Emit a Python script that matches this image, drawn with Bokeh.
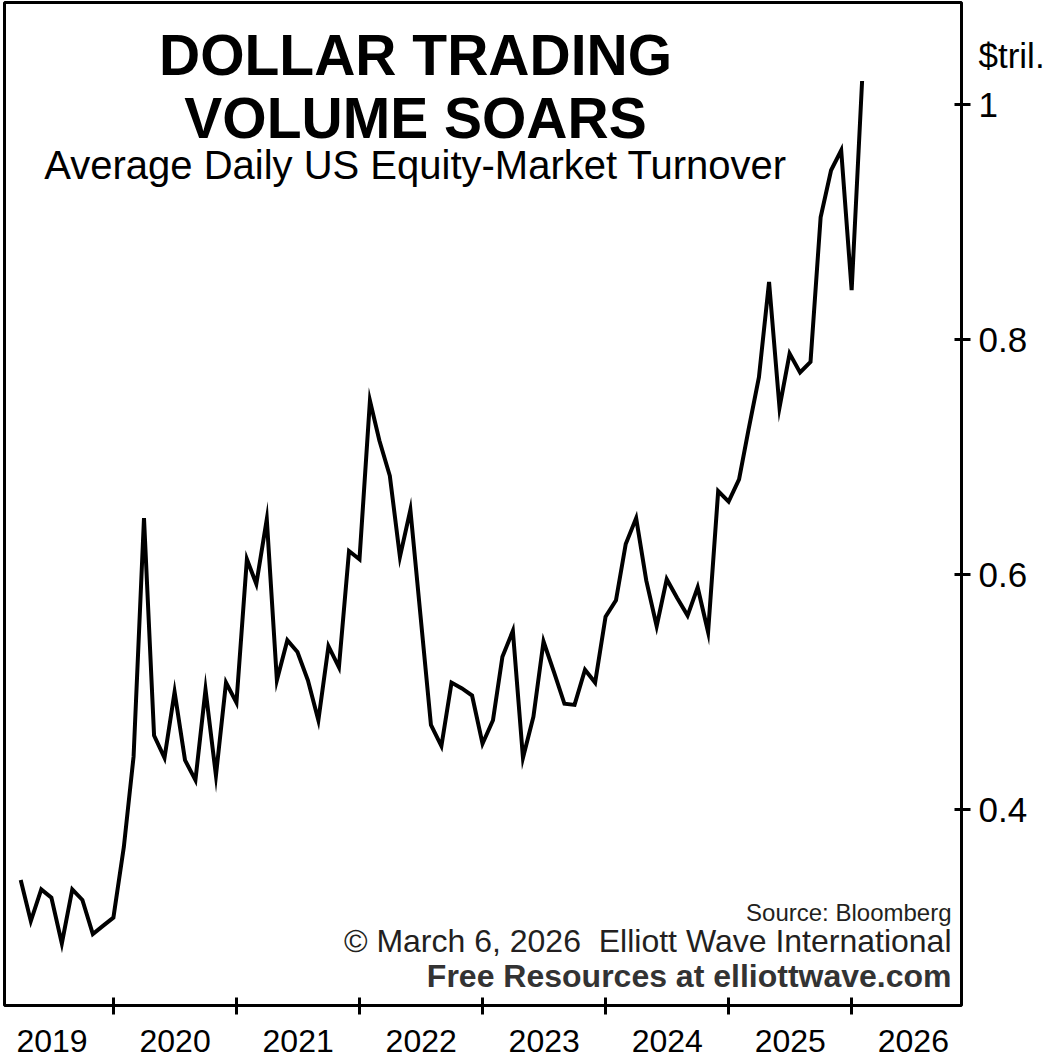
import pandas as pd
from bokeh.plotting import figure
from bokeh.models import Range1d, LinearAxis, FixedTicker, Label
from bokeh.embed import file_html
from bokeh.resources import INLINE

# Average daily US equity-market turnover, $ trillions, monthly Mar 2019 - Jan 2026
start_month = "2019-03-31"
turnover = [
    0.340, 0.305, 0.332, 0.325, 0.286, 0.332, 0.323, 0.294, 0.301, 0.308,          # 2019
    0.368, 0.445, 0.648, 0.463, 0.444, 0.500, 0.442, 0.425, 0.502, 0.429, 0.508, 0.491,  # 2020
    0.613, 0.592, 0.647, 0.510, 0.544, 0.534, 0.510, 0.476, 0.539, 0.521, 0.620, 0.613,  # 2021
    0.748, 0.714, 0.684, 0.615, 0.655, 0.565, 0.472, 0.454, 0.508, 0.503, 0.497, 0.456,  # 2022
    0.476, 0.530, 0.552, 0.444, 0.479, 0.543, 0.517, 0.490, 0.489, 0.519, 0.508, 0.564,  # 2023
    0.578, 0.626, 0.648, 0.595, 0.556, 0.596, 0.580, 0.565, 0.589, 0.551, 0.671, 0.662,  # 2024
    0.681, 0.723, 0.768, 0.849, 0.742, 0.788, 0.772, 0.781, 0.904, 0.944, 0.961, 0.842,  # 2025
    1.020,                                                                          # 2026
]
year_labels = ["2019", "2020", "2021", "2022", "2023", "2024", "2025", "2026"]
year_bounds = [2020, 2021, 2022, 2023, 2024, 2025, 2026]
y_ticks = [0.4, 0.6, 0.8, 1.0]
y_tick_labels = ["0.4", "0.6", "0.8", "1"]
unit_label = "$tril."
unit_label_at = 1.0417

dates = pd.date_range(start_month, periods=len(turnover), freq="ME")
frac_year = [d.year + (d.dayofyear - 0.5) / (366 if d.is_leap_year else 365) for d in dates]

FONT = "Liberation Sans"

p = figure(width=1047, height=1057,
           x_range=Range1d(2019.1135, 2026.8915), y_range=Range1d(0.2332, 1.0868),
           output_backend="svg", toolbar_location=None,
           x_axis_location=None, y_axis_location=None,
           min_border_left=4, min_border_top=2, min_border_right=84, min_border_bottom=52)
p.grid.visible = False
p.outline_line_color = "black"
p.outline_line_width = 3
p.background_fill_color = "white"
p.border_fill_color = "white"

p.line(frac_year, turnover, line_color="black", line_width=4, line_join="miter")

# bottom axis: year names centred in each year, tick marks on the year boundaries
label_pos = [int(s) + 0.5 for s in year_labels]
xaxis = LinearAxis(ticker=FixedTicker(ticks=label_pos, minor_ticks=year_bounds))
xaxis.axis_line_color = None
xaxis.major_tick_in = 0
xaxis.major_tick_out = 0
xaxis.minor_tick_in = 8
xaxis.minor_tick_out = 9
xaxis.minor_tick_line_width = 3
xaxis.minor_tick_line_color = "black"
xaxis.major_label_overrides = dict(zip(label_pos, year_labels))
xaxis.major_label_text_font = FONT
xaxis.major_label_text_font_size = "32px"
xaxis.major_label_text_color = "black"
xaxis.major_label_standoff = 15
p.add_layout(xaxis, "below")

# right value axis; the unit name rides along as an extra label at the top
ylab_pos = y_ticks + [unit_label_at]
yaxis = LinearAxis(ticker=FixedTicker(ticks=ylab_pos, minor_ticks=y_ticks))
yaxis.axis_line_color = None
yaxis.major_tick_in = 0
yaxis.major_tick_out = 0
yaxis.minor_tick_in = 7
yaxis.minor_tick_out = 9
yaxis.minor_tick_line_width = 3
yaxis.minor_tick_line_color = "black"
yaxis.major_label_overrides = dict(zip(ylab_pos, y_tick_labels + [unit_label]))
yaxis.major_label_text_font = FONT
yaxis.major_label_text_font_size = "35px"
yaxis.major_label_text_color = "black"
yaxis.major_label_standoff = 8
p.add_layout(yaxis, "right")

FRAME_BOTTOM = 1005
FRAME_LEFT = 4

def add_text(txt, x, y_mid, size, align="left", bold=False, color="black"):
    # x, y_mid in canvas pixels (top-left origin); converted to frame screen units
    p.add_layout(Label(x=x - FRAME_LEFT, y=FRAME_BOTTOM - y_mid,
                       x_units="screen", y_units="screen", text=txt,
                       text_font=FONT, text_font_size=f"{size}px",
                       text_font_style="bold" if bold else "normal",
                       text_align=align, text_baseline="middle", text_color=color))

add_text("DOLLAR TRADING", 415, 54, 57, align="center", bold=True)
add_text("VOLUME SOARS", 415, 117, 57, align="center", bold=True)
add_text("Average Daily US Equity-Market Turnover", 415, 164, 40, align="center")
add_text("Source: Bloomberg", 951, 912, 24, align="right", color="#231f20")
add_text("\u00a9 March 6, 2026\u00a0 Elliott Wave International", 951, 940, 32,
         align="right", color="#231f20")
add_text("Free Resources at elliottwave.com", 951, 975, 32, align="right",
         bold=True, color="#333333")

open("out.html", "w").write(file_html(p, INLINE))
